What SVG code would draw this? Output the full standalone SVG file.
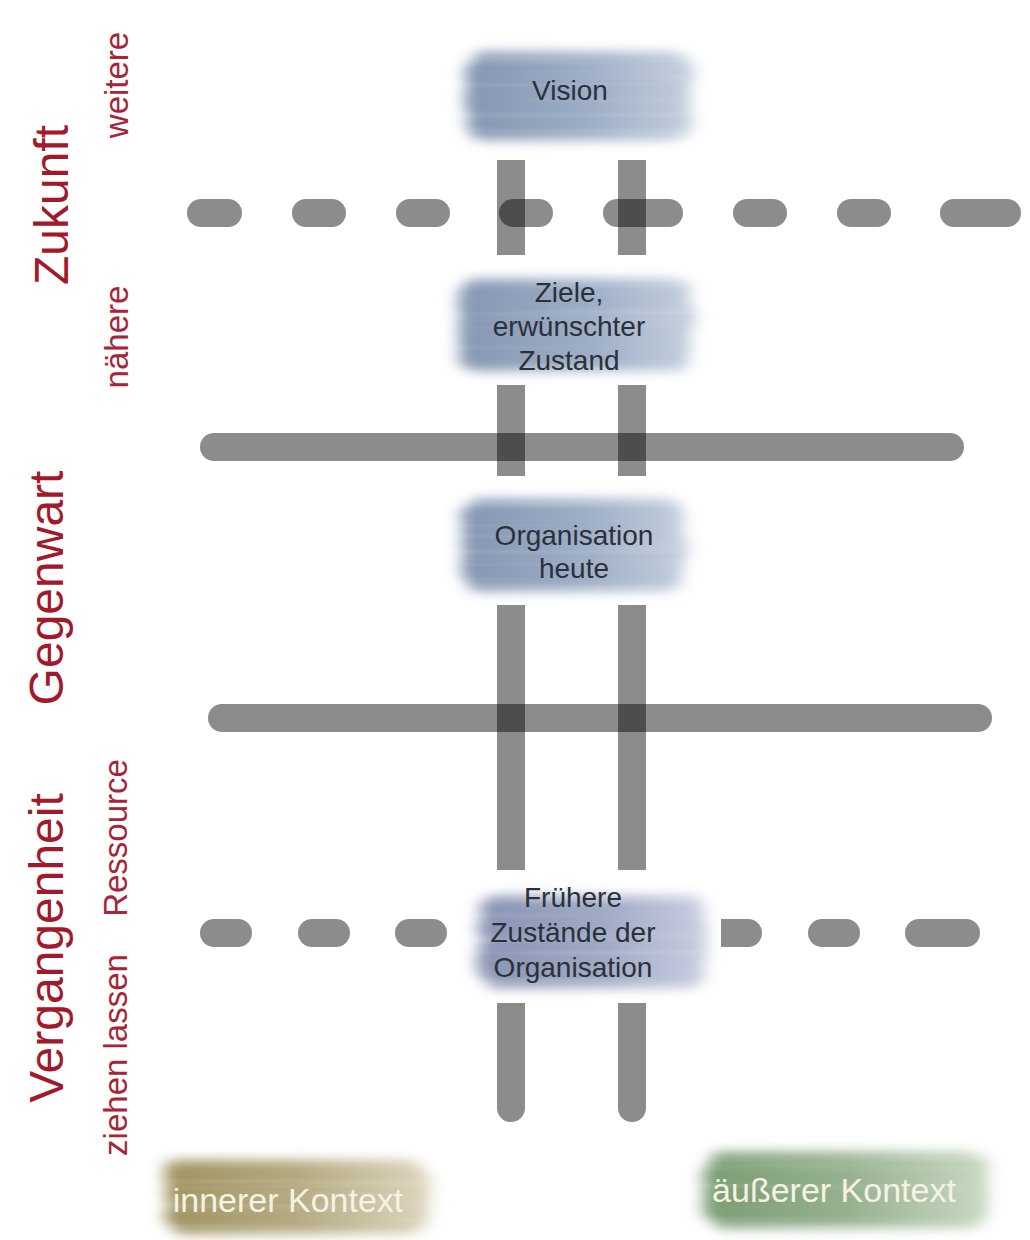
<svg xmlns="http://www.w3.org/2000/svg" width="1030" height="1240" viewBox="0 0 1030 1240">
  <style>
    .rail { stroke: #000; stroke-opacity: .45; stroke-width: 28; stroke-linecap: round; fill: none; }
    .bar { fill: #000; fill-opacity: .45; }
    .node-text { font-family: "Liberation Sans", Arial, sans-serif; font-size: 28px; fill: #2b3039; text-anchor: middle; }
    .ctx-text { font-family: "Liberation Sans", Arial, sans-serif; font-size: 34px; fill: #f6f2e4; text-anchor: middle; }
    .time-big { font-family: "Liberation Sans", Arial, sans-serif; font-size: 48px; fill: #a3192c; text-anchor: middle; }
    .time-small { font-family: "Liberation Sans", Arial, sans-serif; font-size: 33px; fill: #a62536; text-anchor: middle; }
  </style>
  <defs>
    <!-- soft, streaky brush-stroke look for the label patches -->
    <filter id="brush" x="-20%" y="-35%" width="140%" height="170%" color-interpolation-filters="sRGB">
      <feTurbulence type="fractalNoise" baseFrequency="0.002 0.09" numOctaves="3" seed="7" result="noise"/>
      <feColorMatrix in="noise" type="matrix" values="1 0 0 0 0  0 1 0 0 0  0 0 0 0 0.5  0 0 0 0 1" result="shift"/>
      <feDisplacementMap in="SourceGraphic" in2="shift" scale="18" xChannelSelector="R" yChannelSelector="B" result="ragged"/>
      <feGaussianBlur in="ragged" stdDeviation="8 6" result="soft"/>
      <feColorMatrix in="noise" type="matrix" values="0 0 0 0 0  0 0 0 0 0  0 0 0 0 0  0.35 0 0 0 0.82" result="mask"/>
      <feComposite in="soft" in2="mask" operator="in"/>
    </filter>
    <linearGradient id="blue" x1="0" y1="0" x2="1" y2="0">
      <stop offset="0" stop-color="#8496b2"/>
      <stop offset="0.55" stop-color="#9cadc5"/>
      <stop offset="1" stop-color="#c3cedd"/>
    </linearGradient>
    <linearGradient id="lilac" x1="0" y1="0" x2="1" y2="0">
      <stop offset="0" stop-color="#8a93b3"/>
      <stop offset="0.55" stop-color="#a0aac5"/>
      <stop offset="1" stop-color="#c8cde0"/>
    </linearGradient>
    <linearGradient id="olive" x1="0" y1="0" x2="1" y2="0">
      <stop offset="0" stop-color="#a0935f"/>
      <stop offset="0.5" stop-color="#b3a87f"/>
      <stop offset="1" stop-color="#dcd5bd"/>
    </linearGradient>
    <linearGradient id="green" x1="0" y1="0" x2="1" y2="0">
      <stop offset="0" stop-color="#7b9d75"/>
      <stop offset="0.5" stop-color="#95b08e"/>
      <stop offset="1" stop-color="#c9d8c3"/>
    </linearGradient>
  </defs>

  <rect width="1030" height="1240" fill="#ffffff"/>

  <!-- time axis labels -->
  <g id="time-labels">
    <text class="time-small" transform="translate(128,85) rotate(-90)">weitere</text>
    <text class="time-big" transform="translate(68,205) rotate(-90)">Zukunft</text>
    <text class="time-small" transform="translate(128,337) rotate(-90)">nähere</text>
    <text class="time-big" transform="translate(63,588) rotate(-90)">Gegenwart</text>
    <text class="time-small" transform="translate(127,838) rotate(-90)">Ressource</text>
    <text class="time-big" transform="translate(63,948) rotate(-90)">Vergangenheit</text>
    <text class="time-small" transform="translate(127,1055) rotate(-90)">ziehen lassen</text>
  </g>

  <!-- horizon lines and the two vertical strands -->
  <g id="connectors">
    <!-- distant future boundary (dashed) -->
    <line class="rail" x1="201" y1="213" x2="228" y2="213"/>
    <line class="rail" x1="306" y1="213" x2="332" y2="213"/>
    <line class="rail" x1="410" y1="213" x2="436" y2="213"/>
    <line class="rail" x1="513" y1="213" x2="539" y2="213"/>
    <line class="rail" x1="617" y1="213" x2="669" y2="213"/>
    <line class="rail" x1="747" y1="213" x2="773" y2="213"/>
    <line class="rail" x1="851" y1="213" x2="877" y2="213"/>
    <line class="rail" x1="954" y1="213" x2="1007" y2="213"/>
    <!-- present boundaries (solid) -->
    <line class="rail" x1="214" y1="447" x2="950" y2="447"/>
    <line class="rail" x1="222" y1="718" x2="978" y2="718"/>
    <!-- past boundary (dashed) -->
    <line class="rail" x1="214" y1="933" x2="238" y2="933"/>
    <line class="rail" x1="312" y1="933" x2="336" y2="933"/>
    <line class="rail" x1="409" y1="933" x2="433" y2="933"/>
    <path class="bar" d="M721,919 H748 A14,14 0 0 1 748,947 H721 Z"/>
    <line class="rail" x1="822" y1="933" x2="846" y2="933"/>
    <line class="rail" x1="919" y1="933" x2="966" y2="933"/>
    <!-- vertical strands -->
    <rect class="bar" x="497" y="160" width="28" height="95"/>
    <rect class="bar" x="618" y="160" width="28" height="95"/>
    <rect class="bar" x="497" y="385" width="28" height="91"/>
    <rect class="bar" x="618" y="385" width="28" height="91"/>
    <rect class="bar" x="497" y="605" width="28" height="265"/>
    <rect class="bar" x="618" y="605" width="28" height="265"/>
    <path class="bar" d="M497,1003 H525 V1108 A14,14 0 0 1 497,1108 Z"/>
    <path class="bar" d="M618,1003 H646 V1108 A14,14 0 0 1 618,1108 Z"/>
  </g>

  <g id="vision">
    <rect x="466" y="52" width="224" height="88" rx="18" fill="url(#blue)" filter="url(#brush)"/>
    <text class="node-text" x="570" y="100">Vision</text>
  </g>

  <g id="ziele">
    <rect x="459" y="279" width="232" height="92" rx="18" fill="url(#blue)" filter="url(#brush)"/>
    <text class="node-text" x="569" y="302">Ziele,</text>
    <text class="node-text" x="569" y="336">erwünschter</text>
    <text class="node-text" x="569" y="370">Zustand</text>
  </g>

  <g id="heute">
    <rect x="462" y="499" width="222" height="92" rx="18" fill="url(#blue)" filter="url(#brush)"/>
    <text class="node-text" x="574" y="545">Organisation</text>
    <text class="node-text" x="574" y="578">heute</text>
  </g>

  <g id="frueher">
    <rect x="479" y="896" width="226" height="92" rx="18" fill="url(#lilac)" filter="url(#brush)"/>
    <text class="node-text" x="573" y="907">Frühere</text>
    <text class="node-text" x="573" y="942">Zustände der</text>
    <text class="node-text" x="573" y="977">Organisation</text>
  </g>

  <g id="innerer-kontext">
    <rect x="164" y="1160" width="264" height="74" rx="20" fill="url(#olive)" filter="url(#brush)"/>
    <text class="ctx-text" x="288" y="1212">innerer Kontext</text>
  </g>

  <g id="aeusserer-kontext">
    <rect x="704" y="1152" width="284" height="76" rx="20" fill="url(#green)" filter="url(#brush)"/>
    <text class="ctx-text" x="834" y="1202">äußerer Kontext</text>
  </g>
</svg>
